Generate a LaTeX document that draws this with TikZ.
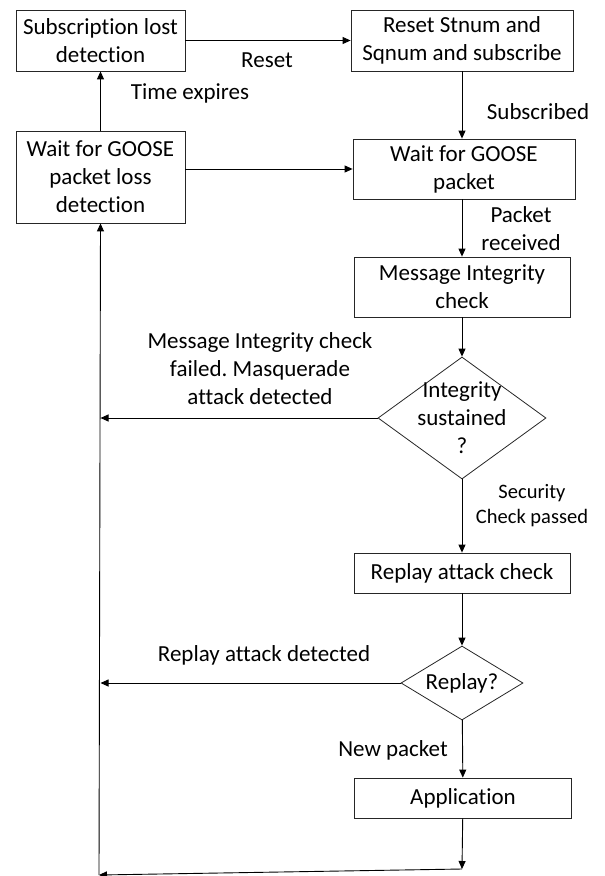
\documentclass[tikz,border=0pt]{standalone}
\usepackage{fontspec}
\setmainfont{Carlito}[Ligatures=NoCommon]
\usepackage{tikz}
\usetikzlibrary{shapes.geometric,arrows.meta}
\frenchspacing
\tikzset{
  box/.style={draw=black!85, line width=0.8pt, align=center, inner sep=0pt},
  decision/.style={diamond, draw=black!85, line width=0.8pt, inner sep=0pt},
  flow/.style={draw=black, line width=0.9pt, -{Triangle[length=8pt,width=7pt]}},
  lab/.style={text=black},
}

\begin{document}
\begin{tikzpicture}[x=1pt, y=-1pt, font=\fontsize{23}{28}\selectfont]
  \useasboundingbox (0,0) rectangle (605,876);

  \node[box, minimum width=169pt, minimum height=61pt] (lost) at (100.5,40.5) {Subscription lost\\detection};
  \node[box, minimum width=222pt, minimum height=61pt] (reset) at (462,40.5) {Reset Stnum and\\Sqnum and subscribe};
  \node[box, minimum width=169pt, minimum height=92pt] (loss) at (100.5,177) {Wait for GOOSE\\packet loss\\detection};
  \node[box, minimum width=222pt, minimum height=60pt] (wait) at (464,169) {Wait for GOOSE\\packet};
  \node[box, minimum width=216pt, minimum height=60pt] (integ) at (462,287) {Message Integrity\\check};
  \node[decision, minimum width=168pt, minimum height=122pt] (sustain) at (462,418) {};
  \node[lab, align=center] at (sustain) {Integrity\\sustained\\?};
  \node[box, minimum width=216pt, minimum height=40pt] (replay) at (462,573) {Replay attack check};
  \node[decision, minimum width=122pt, minimum height=74pt] (isreplay) at (462,683) {};
  \node[lab] at (isreplay) {Replay?};
  \node[box, minimum width=217pt, minimum height=40pt] (app) at (463,798) {Application};

  \coordinate (br) at (462,869);
  \coordinate (bl) at (99,875);

  \draw[flow] (lost) -- (reset);
  \draw[flow] (loss) -- (lost);
  \draw[flow] (loss.east |- wait.west) -- (wait.west);
  \draw[flow] (reset.south) -- (reset.south |- wait.north);
  \draw[flow] (integ.north |- wait.south) -- (integ);
  \draw[flow] (integ) -- (sustain);
  \draw[flow] (sustain) -- (replay);
  \draw[flow] (replay) -- (isreplay);
  \draw[flow] (isreplay) -- (app);
  \draw[flow] (app) -- (br);
  \draw[flow] (sustain.west) -- (sustain.west -| loss.south);
  \draw[flow] (isreplay.west) -- (isreplay.west -| loss.south);
  \draw[flow] (br) -- (bl);
  \draw[flow] (bl) -- (loss.south);

  \node[lab] at (267,60) {Reset};
  \node[lab] at (190,93) {Time expires};
  \node[lab] at (538,112) {Subscribed};
  \node[lab, align=center] at (521,229) {Packet\\received};
  \node[lab, align=center] at (260,369) {Message Integrity check\\failed. Masquerade\\attack detected};
  \node[lab, align=center, font=\fontsize{20.5}{25}\selectfont] at (532,506) {Security\\Check passed};
  \node[lab] at (264,655) {Replay attack detected};
  \node[lab] at (393,750) {New packet};
\end{tikzpicture}
\end{document}
